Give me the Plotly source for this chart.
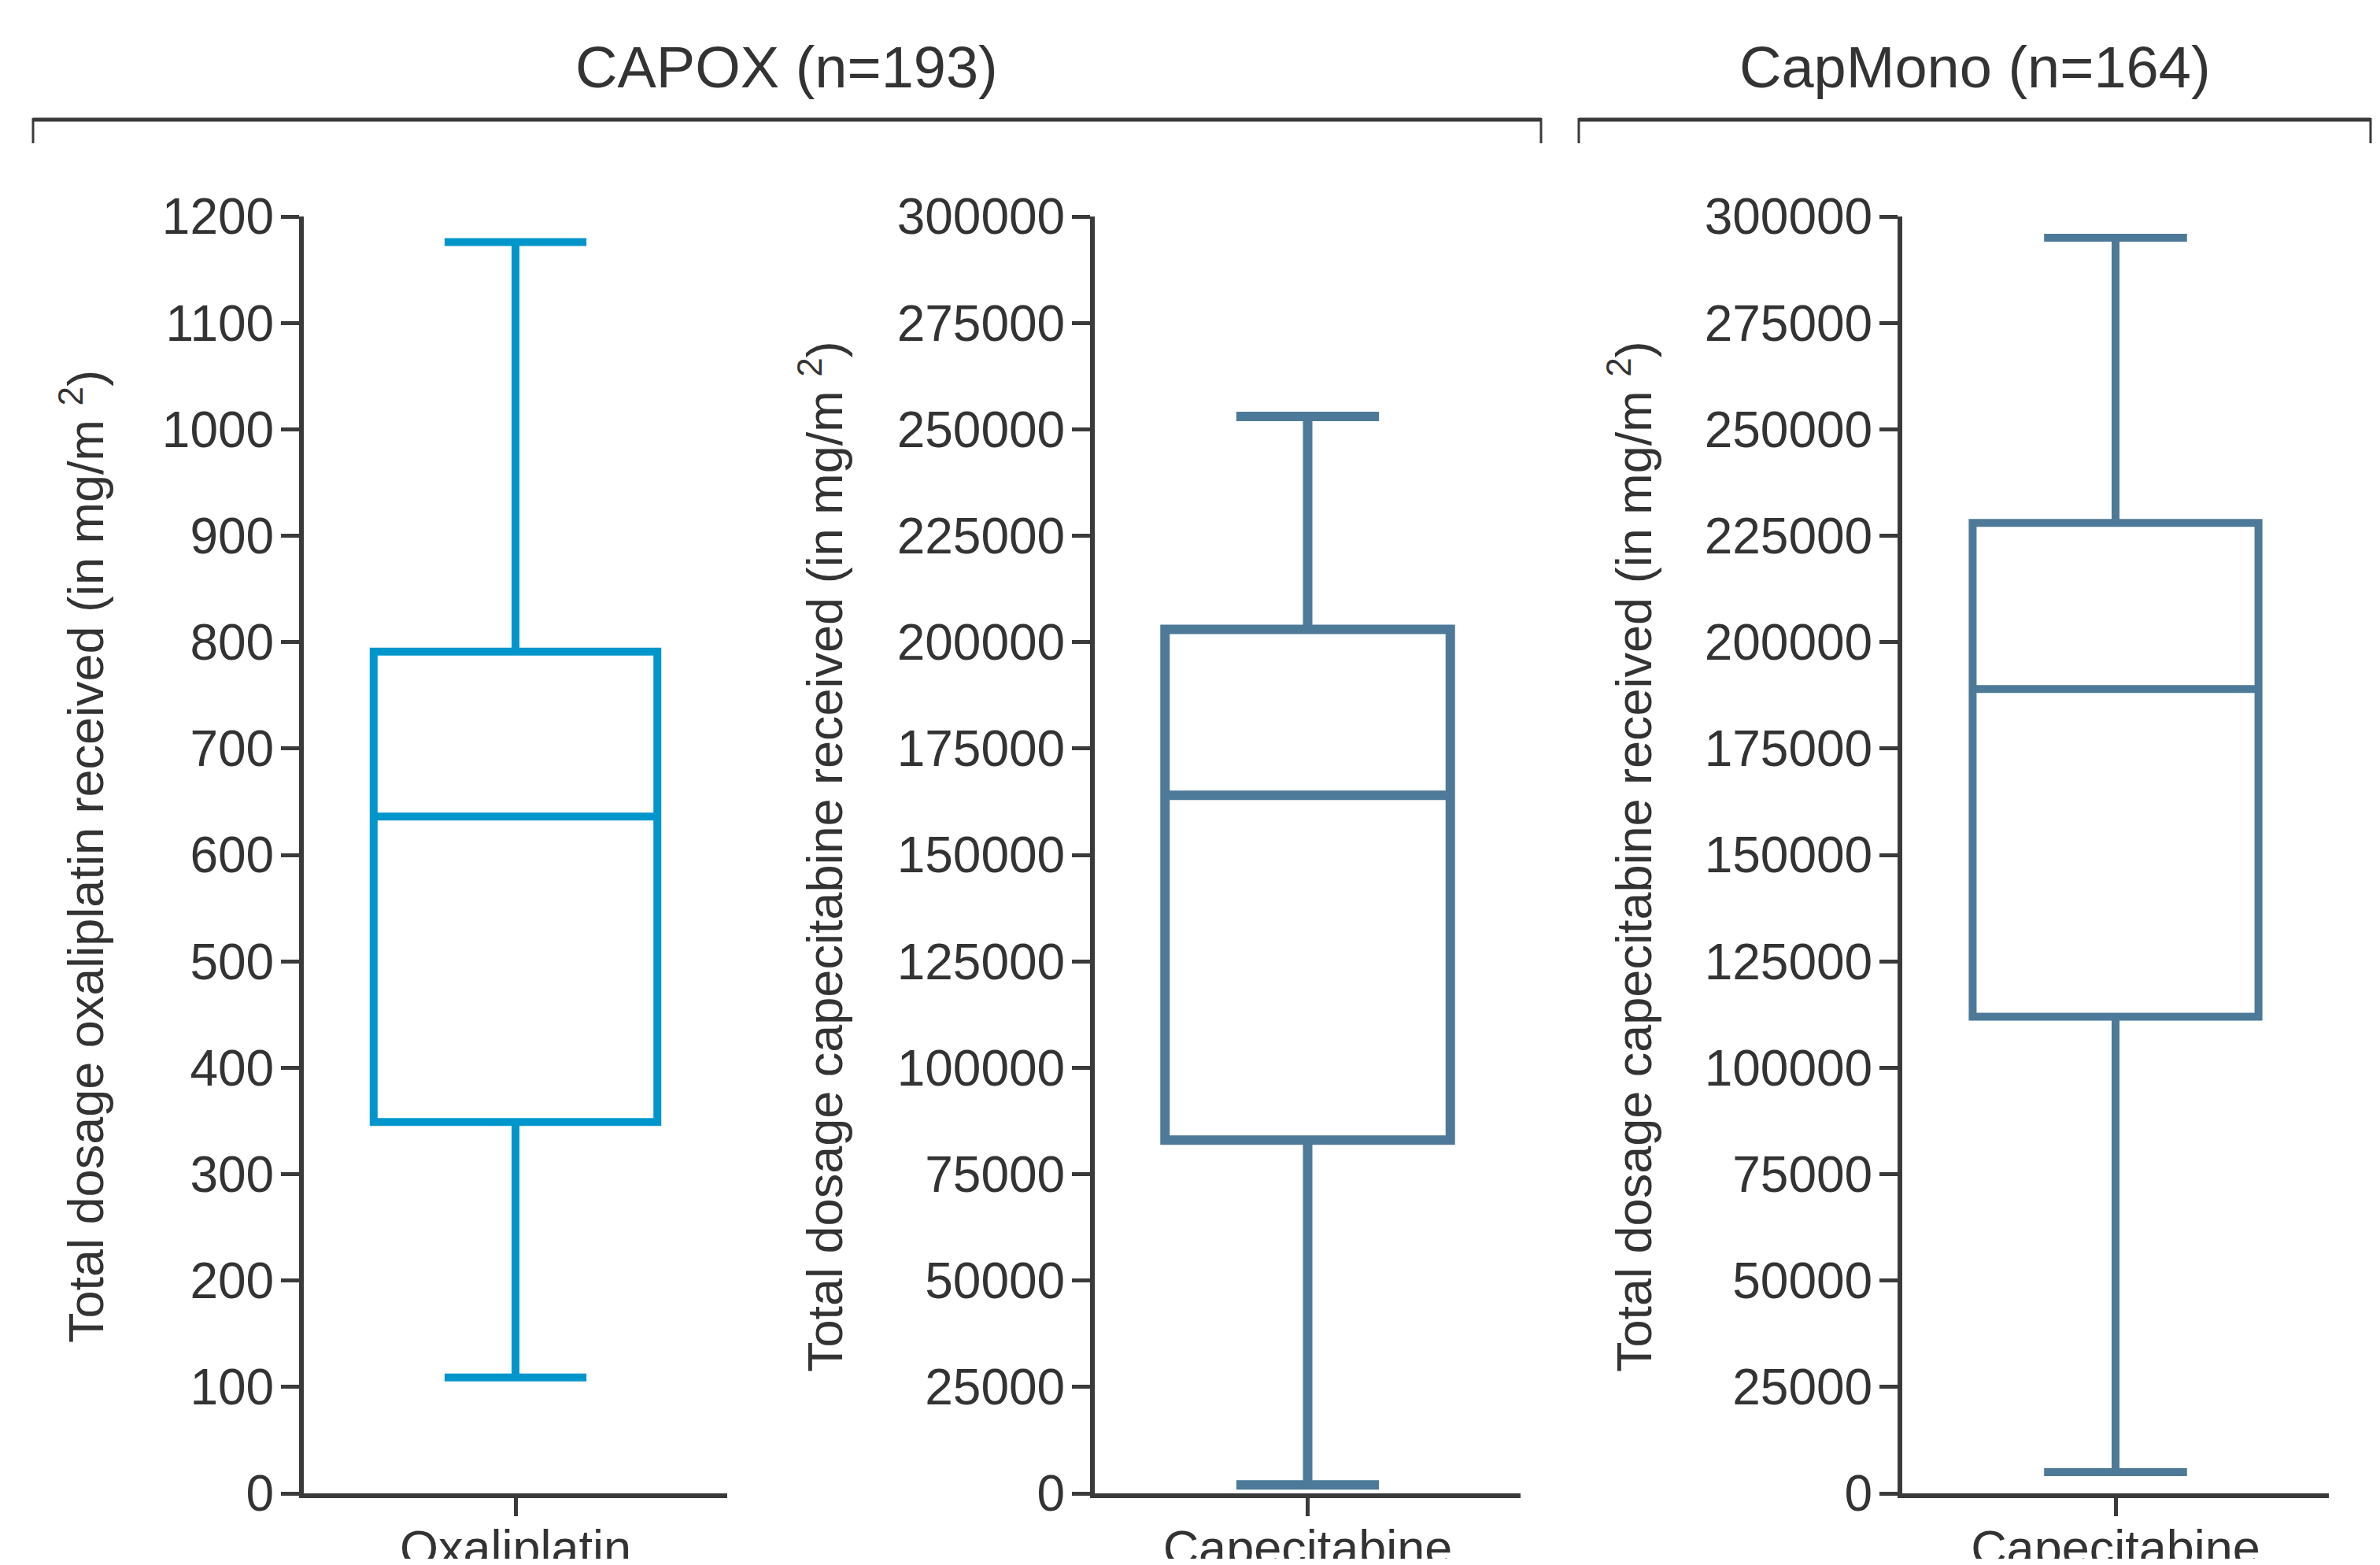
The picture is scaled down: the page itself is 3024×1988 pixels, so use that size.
import plotly.graph_objects as go

# ---------------- data ----------------
groups = ["CAPOX (n=193)", "CapMono (n=164)"]
categories = ["Oxaliplatin", "Capecitabine", "Capecitabine"]
y_titles = [
    "Total dosage oxaliplatin received (in mg/m <sup>2</sup>)",
    "Total dosage capecitabine received (in mg/m <sup>2</sup>)",
    "Total dosage capecitabine received (in mg/m <sup>2</sup>)",
]
lower_whisker = [109, 2000, 5000]
q1_vals = [349, 83000, 112000]
median_vals = [636, 164000, 189000]
q3_vals = [791, 203000, 228000]
upper_whisker = [1176, 253000, 295000]
y_max = [1200, 300000, 300000]
y_step = [100, 25000, 25000]

# ---------------- style ----------------
colors = ["#0096CC", "#4D7A99", "#4D7A99"]
line_widths = [10, 12, 10]
FONT = "Liberation Sans, Arial, sans-serif"
TXT = "#333333"
AX = "#3a3a3a"

W, H, OFF = 3008, 1972, 8


def px_x(X):
    return (X - OFF) / W


def px_y(Y):
    return 1 - (Y - OFF) / H


x_doms = [(386, 924), (1391, 1932), (2417, 2959)]
y_dom = (px_y(1897), px_y(275))
ytitle_x = [104, 1043, 2071]

fig = go.Figure()
layout = dict(
    width=W, height=H,
    margin=dict(l=0, r=0, t=0, b=0, pad=0, autoexpand=False),
    paper_bgcolor="white", plot_bgcolor="white",
    showlegend=False,
    font=dict(family=FONT, color=TXT, size=62),
)

annotations = []
for i in range(3):
    sfx = "" if i == 0 else str(i + 1)
    fig.add_trace(go.Box(
        x=[categories[i]],
        q1=[q1_vals[i]], median=[median_vals[i]], q3=[q3_vals[i]],
        lowerfence=[lower_whisker[i]], upperfence=[upper_whisker[i]],
        width=0.67, whiskerwidth=0.5,
        line=dict(color=colors[i], width=line_widths[i]),
        fillcolor="rgba(255,255,255,0)",
        boxpoints=False, hoverinfo="y",
        xaxis="x" + sfx, yaxis="y" + sfx,
    ))
    layout["xaxis" + sfx] = dict(
        domain=[px_x(x_doms[i][0]), px_x(x_doms[i][1])],
        anchor="y" + sfx, type="category", range=[-0.5, 0.5],
        automargin=False,
        showline=True, linecolor=AX, linewidth=6,
        ticks="outside", ticklen=23, tickwidth=5, tickcolor=AX,
        showgrid=False, zeroline=False,
        tickfont=dict(size=63, color=TXT, family=FONT),
        ticklabelstandoff=-14,
    )
    layout["yaxis" + sfx] = dict(
        domain=list(y_dom), anchor="x" + sfx,
        range=[0, y_max[i]], automargin=False,
        tickmode="linear", tick0=0, dtick=y_step[i], tickformat="d",
        showline=True, linecolor=AX, linewidth=6,
        ticks="outside", ticklen=23, tickwidth=5, tickcolor=AX,
        showgrid=False, zeroline=False,
        tickfont=dict(size=64, color=TXT, family=FONT),
        ticklabelstandoff=-4,
    )
    annotations.append(dict(
        text=y_titles[i], textangle=-90,
        x=px_x(ytitle_x[i]), y=px_y(1088), xref="paper", yref="paper",
        xanchor="center", yanchor="middle", showarrow=False,
        font=dict(size=63, color=TXT, family=FONT),
    ))

# group headers with brackets
bracket_x = [(42, 1958), (2006, 3012)]
shapes = []
for g, (xa, xb) in zip(groups, bracket_x):
    annotations.append(dict(
        text=g, x=px_x((xa + xb) / 2), y=px_y(85), xref="paper", yref="paper",
        xanchor="center", yanchor="middle", showarrow=False,
        font=dict(size=74, color=TXT, family=FONT),
    ))
    shapes.append(dict(type="line", xref="paper", yref="paper",
                       x0=px_x(xa), x1=px_x(xb), y0=px_y(152), y1=px_y(152),
                       line=dict(color=AX, width=5)))
    for xx in (xa, xb):
        shapes.append(dict(type="line", xref="paper", yref="paper",
                           x0=px_x(xx), x1=px_x(xx), y0=px_y(150), y1=px_y(182),
                           line=dict(color=AX, width=3)))

layout["annotations"] = annotations
layout["shapes"] = shapes
fig.update_layout(**layout)

fig.write_html("out.html")
